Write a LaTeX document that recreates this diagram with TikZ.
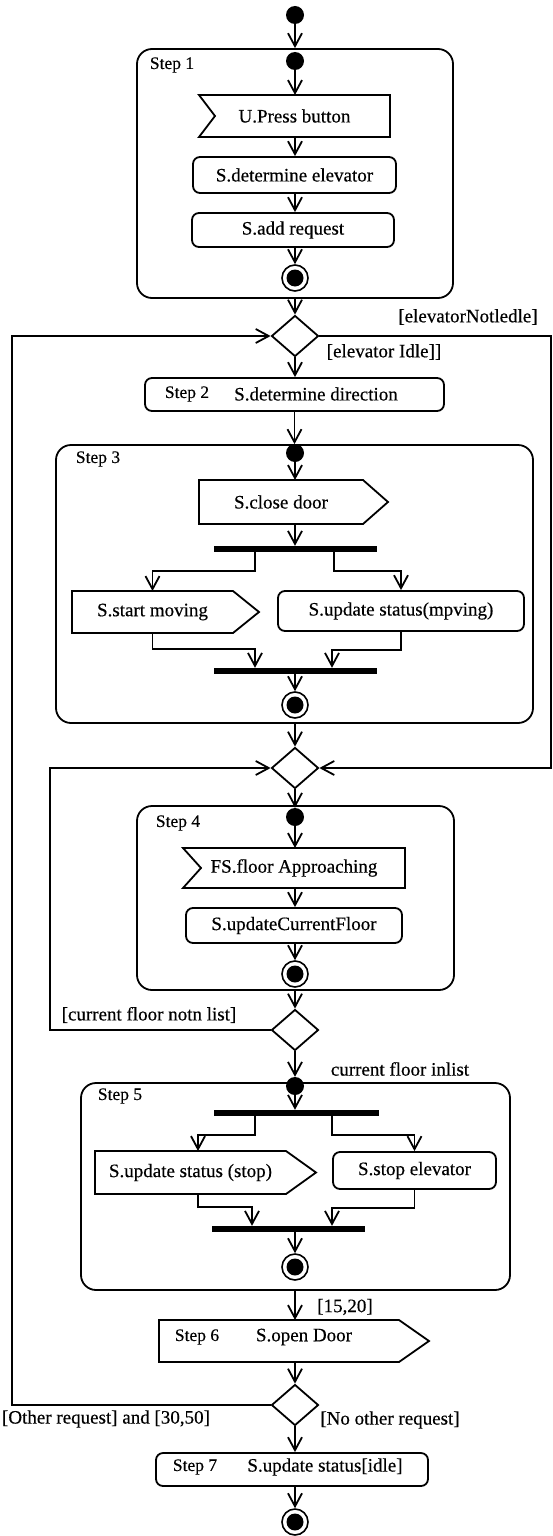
\documentclass[tikz,border=0pt]{standalone}
\usepackage{fontspec}
\setmainfont{Liberation Serif}[FakeBold=0.4]
\usetikzlibrary{arrows.meta,shapes.geometric}
\newcommand\actfont{\fontsize{19}{21}\selectfont}
\newcommand\stepfont{\fontsize{17.5}{19}\selectfont}
\tikzset{
  ln/.style={line width=1.8pt},
  flow/.style={ln,-{Straight Barb[length=13pt,width=14pt]}},
  act/.style={draw,ln,rounded corners=7pt,inner sep=0pt,font=\actfont},
  blk/.style={draw,ln,rounded corners=15pt,inner sep=0pt},
  sig/.style={inner sep=0pt,outer sep=0pt,font=\actfont},
  dot/.style={circle,fill,inner sep=0pt,minimum size=18pt},
  fin/.style={circle,draw,line width=1.6pt,inner sep=0pt,minimum size=26pt,
    path picture={\fill (path picture bounding box.center) circle (8.5pt);}},
  dec/.style={diamond,draw,ln,inner sep=0pt,minimum width=47pt,minimum height=41pt},
  bar/.style={fill,inner sep=0pt,minimum height=6pt},
  lbl/.style={inner sep=0pt,font=\actfont},
  steplbl/.style={inner sep=0pt,font=\stepfont},
}
\begin{document}
\begin{tikzpicture}[x=1pt,y=-1pt]
\useasboundingbox (0,0) rectangle (553,1536);
\path (12,336) coordinate (lt)
  (551,336) coordinate (rt)
  (50,768) coordinate (ll);
% step 1
\node[dot] (d0) at (295,15) {};
\node[blk,minimum width=316pt,minimum height=249pt] (b1) at (295,173.5) {};
\node[steplbl] (s1) at (172,65) {Step 1};
\node[dot] (d1) at (295,61) {};
\node[sig,minimum width=191pt,minimum height=42pt] (upress) at (294.5,116) {U.Press button};
\node[act,minimum width=203pt,minimum height=36pt] (detel) at (294.5,175) {S.determine elevator};
\node[act,minimum width=202pt,minimum height=34pt] (addreq) at (293,230) {S.add request};
\node[fin] (f1) at (295,278) {};
\draw[flow] (d0) -- (b1.north);
\draw[flow] (d1) -- (d1 |- upress.north);
\draw[flow] (d1 |- upress.south) -- (d1 |- detel.north);
\draw[flow] (d1 |- detel.south) -- (d1 |- addreq.north);
\draw[flow] (d1 |- addreq.south) -- (f1);
% step 2
\node[dec] (dec1) at (295,336) {};
\draw[flow] (b1.south) -- (dec1.north);
\node[lbl] (gnot) at (468,317) {[elevatorNotledle]};
\node[lbl] (gidle) at (384,352) {[elevator Idle]]};
\node[act,minimum width=299pt,minimum height=33pt] (s2) at (294.5,394.5) {};
\node[steplbl] (s2l) at (187,394) {Step 2};
\node[lbl] (s2t) at (316,394) {S.determine direction};
\draw[flow] (dec1.south) -- (dec1 |- s2.north);
% step 3
\node[blk,minimum width=477pt,minimum height=278pt] (b3) at (294.5,584) {};
\node[steplbl] (s3) at (98,459) {Step 3};
\node[dot] (d3) at (295,453) {};
\node[sig,minimum width=164pt,minimum height=44pt] (close) at (281,502) {S.close door};
\node[bar,minimum width=163pt] (fk3) at (295.5,549) {};
\node[sig,minimum width=161pt,minimum height=42pt] (startmv) at (152.5,612) {S.start moving};
\node[act,minimum width=246pt,minimum height=40pt] (updmv) at (401,611) {S.update status(mpving)};
\node[bar,minimum width=163pt] (jn3) at (295.5,671) {};
\node[fin] (f3) at (295,705) {};
\draw[flow] (s2.south) -- (s2.south |- b3.north);
\draw[flow] (d3) -- (d3 |- close.north);
\draw[flow] (d3 |- close.south) -- (d3 |- fk3.north);
\draw[flow] ([xshift=-40.5pt]fk3.south) -- ++(0,19) -| (startmv.north);
\draw[flow] ([xshift=38.5pt]fk3.south) -- ++(0,19) -| (updmv.north);
\draw[flow] (startmv.south) -- ++(0,16) -| ([xshift=-40.5pt]jn3.north);
\draw[flow] (updmv.south) -- ++(0,18) -| ([xshift=36.5pt]jn3.north);
\draw[flow] (d3 |- jn3.south) -- (f3);
% step 4
\node[dec] (dec2) at (295,768) {};
\draw[flow] (d3 |- b3.south) -- (dec2.north);
\node[blk,minimum width=317pt,minimum height=184pt] (b4) at (295.5,898) {};
\node[steplbl] (s4) at (178,823) {Step 4};
\node[dot] (d4) at (295,817) {};
\node[sig,minimum width=222pt,minimum height=40pt] (floorap) at (294,868) {FS.floor Approaching};
\node[act,minimum width=216pt,minimum height=35pt] (updcur) at (294,925.5) {S.updateCurrentFloor};
\node[fin] (f4) at (295,974) {};
\draw[flow] (dec2.south) -- (d4);
\draw[flow] (d4) -- (d4 |- floorap.north);
\draw[flow] (d4 |- floorap.south) -- (d4 |- updcur.north);
\draw[flow] (d4 |- updcur.south) -- (f4);
\node[dec] (dec3) at (295,1030) {};
\draw[flow] (d4 |- b4.south) -- (dec3.north);
\node[lbl] (gnotin) at (149,1015) {[current floor notn list]};
\node[lbl] (gin) at (400,1069) {current floor inlist};
% step 5
\node[blk,minimum width=429pt,minimum height=207pt] (b5) at (295.5,1186.5) {};
\node[steplbl] (s5) at (120,1096) {Step 5};
\node[dot] (d5) at (295,1086) {};
\node[bar,minimum width=165pt] (fk5) at (296.5,1113) {};
\node[sig,minimum width=191pt,minimum height=43pt] (updstop) at (190.5,1172.5) {S.update status (stop)};
\node[act,minimum width=163pt,minimum height=37pt] (stopel) at (414.5,1170.5) {S.stop elevator};
\node[bar,minimum width=153pt] (jn5) at (288.5,1229) {};
\node[fin] (f5) at (295,1267) {};
\draw[flow] (dec3.south) -- (d5);
\draw[flow] (d5) -- (d5 |- fk5.north);
\draw[flow] ([xshift=-41.5pt]fk5.south) -- ++(0,19) -| ([xshift=7.5pt]updstop.north);
\draw[flow] ([xshift=35.5pt]fk5.south) -- ++(0,19) -| (stopel.north);
\draw[flow] ([xshift=7.5pt]updstop.south) -- ++(0,13) -| ([xshift=-36.5pt]jn5.north);
\draw[flow] (stopel.south) -- ++(0,18) -| ([xshift=43.5pt]jn5.north);
\draw[flow] (d5 |- jn5.south) -- (f5);
% step 6 and 7
\node[sig,minimum width=240pt,minimum height=42pt] (s6) at (279,1341) {};
\node[steplbl] (s6l) at (197,1337) {Step 6};
\node[lbl] (s6t) at (304,1337) {S.open Door};
\node[lbl] (g1520) at (345,1307) {[15,20]};
\node[dec] (dec4) at (295,1405) {};
\node[lbl] (gother) at (106,1419) {[Other request] and [30,50]};
\node[lbl] (gnoother) at (390,1420) {[No other request]};
\node[act,minimum width=272pt,minimum height=33pt] (s7) at (292,1469.5) {};
\node[steplbl] (s7l) at (195,1467) {Step 7};
\node[lbl] (s7t) at (325,1467) {S.update status[idle]};
\node[fin] (f7) at (295,1522) {};
\draw[flow] (d5 |- b5.south) -- (d5 |- s6.north);
\draw[flow] (d5 |- s6.south) -- (dec4.north);
\draw[flow] (dec4.south) -- (d5 |- s7.north);
\draw[flow] (d5 |- s7.south) -- (f7);
% loops
\draw[flow] (dec4.west) -| (lt) -- (dec1.west);
\draw[flow] (dec1.east) -- (rt) |- (dec2.east);
\draw[flow] (dec3.west) -| (ll) -- (dec2.west);
% signal outlines
\foreach \n/\p in {close/25,startmv/26,updstop/30,s6/30}
  \draw[ln] (\n.north west) -- (\n.north east) -- ([xshift=\p pt]\n.east) -- (\n.south east) -- (\n.south west) -- cycle;
\foreach \n/\p in {upress/16,floorap/18}
  \draw[ln] (\n.north west) -- (\n.north east) -- (\n.south east) -- (\n.south west) -- ([xshift=\p pt]\n.west) -- cycle;
\end{tikzpicture}
\end{document}
